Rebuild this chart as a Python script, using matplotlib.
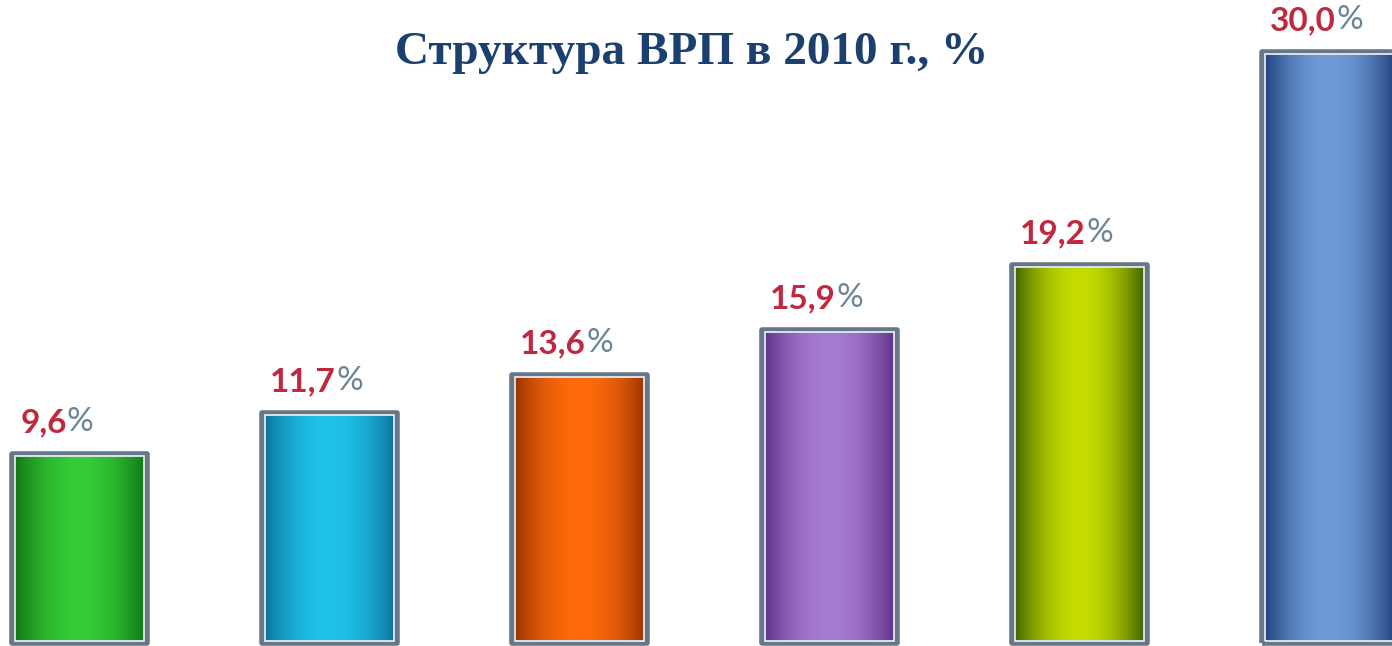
import numpy as np
import matplotlib
matplotlib.use("Agg")
import matplotlib.pyplot as plt
from matplotlib.colors import to_rgb
from matplotlib.patches import Rectangle

# ---- data ----
values = [9.6, 11.7, 13.6, 15.9, 19.2, 30.0]
value_labels = ["9,6", "11,7", "13,6", "15,9", "19,2", "30,0"]
center_colors = ["#35cc35", "#1fc2ea", "#ff6a0c", "#a67bd2", "#c4dc02", "#6f9bd9"]
edge_colors = ["#0b6a12", "#0a6a92", "#8c2e00", "#57297e", "#2f5200", "#17356f"]
title = "Структура ВРП в 2010 г., %"

fig = plt.figure(figsize=(13.92, 6.46), dpi=100)
ax = fig.add_axes([0, 0, 1, 1])
ax.set_xlim(-0.316, 5.252)
ax.set_ylim(-0.152, 32.64)
ax.axis("off")

width = 0.54
for i, (v, cc, ec) in enumerate(zip(values, center_colors, edge_colors)):
    x0 = i - width / 2
    x1 = i + width / 2
    t = np.linspace(-1, 1, 200)
    w = np.cos(t * np.pi / 2) ** 0.8  # 1 at center, 0 at edges
    c1 = np.array(to_rgb(cc))
    c0 = np.array(to_rgb(ec))
    row = c0[None, :] * (1 - w[:, None]) + c1[None, :] * w[:, None]
    img = np.repeat(row[None, :, :], 2, axis=0)
    ax.imshow(img, extent=(x0, x1, 0, v), aspect="auto", interpolation="bilinear", zorder=2)
    # outer grey frame
    ax.add_patch(Rectangle((x0, 0), width, v, fill=False, edgecolor="#66778a",
                           linewidth=4.0, zorder=3, joinstyle="round"))
    # inner white highlight
    ax.add_patch(Rectangle((x0 + 0.012, 0.12), width - 0.024, v - 0.24, fill=False,
                           edgecolor="#eef4f6", linewidth=1.2, zorder=4))
    # label
    t1 = ax.annotate(value_labels[i], xy=(x0 + 0.035, v), xytext=(0, 12),
                     textcoords="offset points", ha="left", va="bottom",
                     fontsize=24, fontweight="bold", color="#c0283e",
                     family="Lato", zorder=5)
    ax.annotate("%", xy=(1, 0), xycoords=t1, ha="left", va="bottom",
                fontsize=24, color="#6a8498", family="Lato", zorder=5)

fig.text(0.497, 0.918, title, ha="center", va="center", fontsize=34,
         fontweight="bold", color="#1b3f6f", family="Liberation Serif")

fig.savefig("out.png", dpi=100, facecolor="white")
